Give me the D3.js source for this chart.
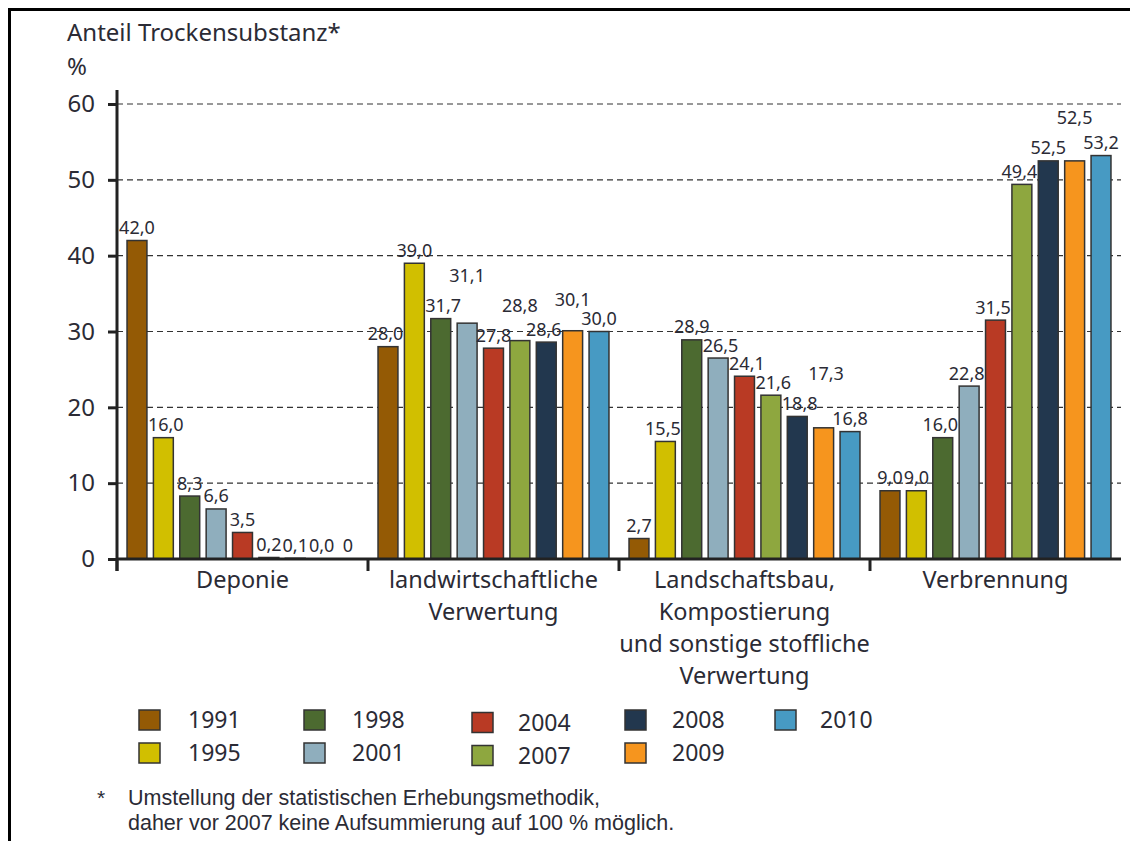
<!DOCTYPE html>
<html>
<head>
<meta charset="utf-8">
<script src="https://cdn.jsdelivr.net/npm/d3@7"></script>
<style>
  html, body { margin: 0; padding: 0; background: #fff; }
  svg { display: block; font-family: "Noto Sans", "Open Sans", sans-serif; }
</style>
</head>
<body>
<script>
// ---------- data ----------
const categories = ["Deponie", "landwirtschaftliche Verwertung", "Landschaftsbau, Kompostierung und sonstige stoffliche Verwertung", "Verbrennung"];
const categoryLines = [
  ["Deponie"],
  ["landwirtschaftliche", "Verwertung"],
  ["Landschaftsbau,", "Kompostierung", "und sonstige stoffliche", "Verwertung"],
  ["Verbrennung"]
];
const years = ["1991", "1995", "1998", "2001", "2004", "2007", "2008", "2009", "2010"];
const v1991 = [42.0, 28.0, 2.7, 9.0];
const v1995 = [16.0, 39.0, 15.5, 9.0];
const v1998 = [8.3, 31.7, 28.9, 16.0];
const v2001 = [6.6, 31.1, 26.5, 22.8];
const v2004 = [3.5, 27.8, 24.1, 31.5];
const v2007 = [0.2, 28.8, 21.6, 49.4];
const v2008 = [0.1, 28.6, 18.8, 52.5];
const v2009 = [0.0, 30.1, 17.3, 52.5];
const v2010 = [0, 30.0, 16.8, 53.2];
const labelOverrides = { "Deponie|2010": "0" };
const yTicks = [0, 10, 20, 30, 40, 50, 60];
const colors = ["#945a05", "#d1bf00", "#4c6a30", "#8faebd", "#b93a24", "#8ea73f", "#22374e", "#f6951e", "#479ac3"];
const yTitle = ["Anteil Trockensubstanz*", "%"];
const footnote = ["Umstellung der statistischen Erhebungsmethodik,", "daher vor 2007 keine Aufsummierung auf 100 % möglich."];

const seriesValues = [v1991, v1995, v1998, v2001, v2004, v2007, v2008, v2009, v2010];

// ---------- layout ----------
const W = 1130, H = 841;
const textColor = "#2b2b35";
const svg = d3.select("body").append("svg").attr("width", W).attr("height", H);

// frame
svg.append("line").attr("x1", 8).attr("x2", W).attr("y1", 9.5).attr("y2", 9.5).attr("stroke", "#000").attr("stroke-width", 3);
svg.append("line").attr("x1", 9.5).attr("x2", 9.5).attr("y1", 8).attr("y2", H).attr("stroke", "#000").attr("stroke-width", 3);

const xLeft = 117, xRight = 1121;
const y = d3.scaleLinear().domain([0, 60]).range([559, 104]);
const x0 = d3.scaleBand().domain(categories).range([xLeft, xRight]).paddingInner(0).paddingOuter(0);
const x1 = d3.scaleBand().domain(years).range([0, x0.bandwidth()]).paddingInner(0.245).paddingOuter(0.38);
const color = d3.scaleOrdinal().domain(years).range(colors);

// title
svg.append("text").attr("x", 67).attr("y", 41).attr("font-size", 24).attr("fill", textColor).text(yTitle[0]);
svg.append("text").attr("x", 67).attr("y", 75).attr("font-size", 24).attr("fill", textColor).text(yTitle[1]);

// gridlines
svg.append("g").selectAll("line").data(yTicks.filter(d => d > 0)).join("line")
  .attr("x1", xLeft).attr("x2", xRight)
  .attr("y1", d => y(d)).attr("y2", d => y(d))
  .attr("stroke", "#333").attr("stroke-width", 1.2).attr("stroke-dasharray", "6,4");

// bars
const fmt = d3.format(".1f");
const data = [];
categories.forEach((c, ci) => {
  years.forEach((yr, yi) => {
    const v = seriesValues[yi][ci];
    const key = c.split(" ")[0].replace(",", "") + "|" + yr;
    const lbl = labelOverrides[key] !== undefined ? labelOverrides[key] : fmt(v).replace(".", ",");
    data.push({ cat: c, ci, yi, year: yr, value: v, label: lbl });
  });
});

svg.append("g").selectAll("rect").data(data).join("rect")
  .attr("x", d => x0(d.cat) + x1(d.year))
  .attr("width", x1.bandwidth())
  .attr("y", d => y(d.value))
  .attr("height", d => y(0) - y(d.value))
  .attr("fill", d => color(d.year))
  .attr("stroke", "#333")
  .attr("stroke-width", d => d.value > 0 ? 1.5 : 0);

// y axis
const yAxis = d3.axisLeft(y).tickValues(yTicks).tickSize(9).tickPadding(13).tickFormat(d => d);
const gy = svg.append("g").attr("transform", `translate(${xLeft},0)`).call(yAxis);
gy.select(".domain").remove();
gy.selectAll(".tick line").attr("stroke", "#222").attr("stroke-width", 3);
gy.selectAll(".tick text").attr("font-size", 24).attr("fill", textColor).attr("font-family", "Noto Sans");
svg.append("line").attr("x1", xLeft).attr("x2", xLeft).attr("y1", 90).attr("y2", 571)
  .attr("stroke", "#222").attr("stroke-width", 3);

// x axis
svg.append("line").attr("x1", xLeft).attr("x2", xRight).attr("y1", y(0)).attr("y2", y(0))
  .attr("stroke", "#222").attr("stroke-width", 3);
svg.append("g").selectAll("line").data(categories).join("line")
  .attr("x1", c => x0(c)).attr("x2", c => x0(c))
  .attr("y1", y(0)).attr("y2", y(0) + 12)
  .attr("stroke", "#222").attr("stroke-width", 3);

// category labels
categories.forEach((c, ci) => {
  const t = svg.append("text").attr("text-anchor", "middle").attr("font-size", 23.5).attr("fill", textColor);
  categoryLines[ci].forEach((line, li) => {
    t.append("tspan").attr("x", x0(c) + x0.bandwidth() / 2).attr("y", 588 + li * 32).text(line);
  });
});

// value labels with simple collision avoidance
const lblG = svg.append("g");
const fs = 18, vGap = 17, raise = 30, glyphHalf = 7, maxShift = 8;
categories.forEach(c => {
  const placed = [];
  const inGroup = data.filter(d => d.cat === c);
  inGroup.forEach((d, i) => {
    let cx = x0(d.cat) + x1(d.year) + x1.bandwidth() / 2;
    const t = lblG.append("text").attr("text-anchor", "middle")
      .attr("font-size", fs).attr("fill", textColor).text(d.label);
    const w = t.node().getComputedTextLength();
    let cy = y(d.value) - 13;
    // shift away from a taller neighbouring bar
    const nb = [inGroup[i - 1], inGroup[i + 1]];
    let shift = 0;
    if (nb[1] && y(nb[1].value) < cy + glyphHalf) {
      const left = x0(c) + x1(nb[1].year);
      const over = (cx + w / 2 + 1) - left;
      if (over > 0) shift -= over;
    }
    if (nb[0] && y(nb[0].value) < cy + glyphHalf) {
      const right = x0(c) + x1(nb[0].year) + x1.bandwidth();
      const over = right - (cx - w / 2 - 1);
      if (over > 0) shift += over;
    }
    cx += Math.max(-maxShift, Math.min(maxShift, shift));
    let moved = true;
    while (moved) {
      moved = false;
      for (const p of placed) {
        const hOverlap = Math.min(cx + w / 2, p.x + p.w / 2) - Math.max(cx - w / 2, p.x - p.w / 2);
        if (hOverlap > 1 && Math.abs(cy - p.y) < vGap) {
          cy = p.y - raise;
          moved = true;
        }
      }
    }
    placed.push({ x: cx, y: cy, w });
    t.attr("x", cx).attr("y", cy).attr("dy", "0.36em");
  });
});

// legend
const legendColX = [139, 304, 472, 625, 775];
const legendTextX = [188, 352, 518, 672, 820];
const legendColDy = [0, 0, 2.5, 0, 0];
const legendRowY = [720, 753];
const lg = svg.append("g").selectAll("g").data(years).join("g")
  .attr("transform", (d, i) => `translate(0,${legendRowY[i % 2] + legendColDy[Math.floor(i / 2)]})`);
lg.append("rect").attr("x", (d, i) => legendColX[Math.floor(i / 2)]).attr("y", -10).attr("width", 21).attr("height", 20)
  .attr("fill", d => color(d)).attr("stroke", "#333").attr("stroke-width", 1.5);
lg.append("text").attr("x", (d, i) => legendTextX[Math.floor(i / 2)]).attr("y", 0).attr("dy", "0.36em").attr("font-size", 23)
  .attr("fill", textColor).text(d => d);

// footnote
svg.append("text").attr("x", 97).attr("y", 805).attr("font-size", 21).attr("fill", textColor)
  .attr("font-family", "Liberation Sans").text("*");
footnote.forEach((line, i) => {
  svg.append("text").attr("x", 128).attr("y", 805 + i * 25).attr("font-size", 21.5)
    .attr("font-family", "Liberation Sans").attr("fill", textColor).text(line);
});
</script>
</body>
</html>
